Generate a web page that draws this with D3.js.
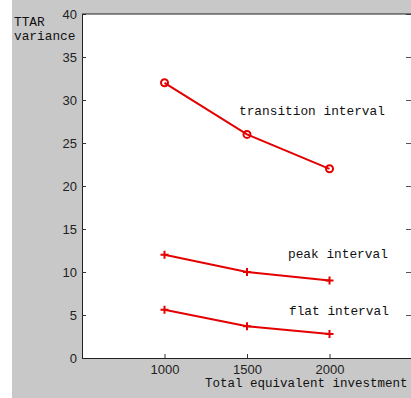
<!DOCTYPE html>
<html><head><meta charset="utf-8">
<script src="https://cdn.jsdelivr.net/npm/d3@7"></script>
<style>
html,body{margin:0;padding:0;background:#fff;overflow:hidden;}
svg{display:block;}
</style></head>
<body>
<svg id="c" width="411" height="398"></svg>
<script>
const investment = [1000, 1500, 2000];
const transitionInterval = [32, 26, 22];
const peakInterval = [12, 10, 9];
const flatInterval = [5.6, 3.7, 2.8];
const yTicks = [0, 5, 10, 15, 20, 25, 30, 35, 40];
const xTicks = [1000, 1500, 2000];
const seriesNames = ["transition interval", "peak interval", "flat interval"];

const svg = d3.select("#c");
const W = 411, H = 398;
const L = 82, R = 412, T = 14, B = 358;

svg.append("rect").attr("x", 12).attr("y", 0).attr("width", W - 12).attr("height", H).attr("fill", "#c8c8c8");
svg.append("rect").attr("x", L).attr("y", T).attr("width", R - L + 5).attr("height", B - T).attr("fill", "#fff");

const x = d3.scaleLinear().domain([500, 2500]).range([L, R]);
const y = d3.scaleLinear().domain([0, 40]).range([B, T]);

const tickFont = "Liberation Sans, Arial, sans-serif";
const monoFont = "Liberation Mono, Courier New, monospace";

// left axis
const yAx = svg.append("g").attr("transform", `translate(${L},0)`)
  .call(d3.axisLeft(y).tickValues(yTicks).tickSize(-4).tickPadding(5).tickFormat(d3.format("d")));
yAx.select(".domain").attr("stroke", "#222");
yAx.selectAll(".tick line").attr("stroke", "#333");
yAx.selectAll("text").attr("font-family", tickFont).attr("font-size", 13).attr("fill", "#222");

// right axis ticks (mirrored, axis line just outside the view)
const yAxR = svg.append("g").attr("transform", `translate(${R},0)`)
  .call(d3.axisRight(y).tickValues(yTicks).tickSize(-6).tickFormat(""));
yAxR.select(".domain").attr("stroke", "#222");
yAxR.selectAll(".tick line").attr("stroke", "#555");

// bottom axis
const xAx = svg.append("g").attr("transform", `translate(0,${B})`)
  .call(d3.axisBottom(x).tickValues(xTicks).tickSize(-4).tickPadding(7).tickFormat(d3.format("d")));
xAx.select(".domain").attr("stroke", "#222");
xAx.selectAll(".tick line").attr("stroke", "#333");
xAx.selectAll("text").attr("font-family", tickFont).attr("font-size", 13).attr("fill", "#222");

// top border
svg.append("line").attr("x1", L).attr("x2", W).attr("y1", T).attr("y2", T).attr("stroke", "#222");

const red = "#e40000";
const line = d3.line().x((d, i) => x(investment[i])).y(d => y(d));

function drawSeries(vals, marker) {
  svg.append("path").datum(vals).attr("d", line).attr("fill", "none")
    .attr("stroke", red).attr("stroke-width", 2);
  const g = svg.append("g");
  vals.forEach((v, i) => {
    const cx = x(investment[i]), cy = y(v);
    if (marker === "o") {
      g.append("circle").attr("cx", cx).attr("cy", cy).attr("r", 3.5)
        .attr("fill", "none").attr("stroke", red).attr("stroke-width", 2);
    } else {
      g.append("path").attr("d", `M${cx - 4},${cy}H${cx + 4}M${cx},${cy - 4}V${cy + 4}`)
        .attr("stroke", red).attr("stroke-width", 2);
    }
  });
}
drawSeries(transitionInterval, "o");
drawSeries(peakInterval, "+");
drawSeries(flatInterval, "+");

// annotations
const fs = 12.8;
const ann = [
  {t: seriesNames[0], x: 239, y: 115},
  {t: seriesNames[1], x: 288, y: 258},
  {t: seriesNames[2], x: 289, y: 315}
];
ann.forEach(a => svg.append("text").attr("x", a.x).attr("y", a.y)
  .attr("font-family", monoFont).attr("font-size", fs).attr("fill", "#111").text(a.t));

// axis labels
svg.append("text").attr("x", 14).attr("y", 26).attr("font-family", monoFont)
  .attr("font-size", fs).attr("fill", "#111").text("TTAR");
svg.append("text").attr("x", 14).attr("y", 40).attr("font-family", monoFont)
  .attr("font-size", fs).attr("fill", "#111").text("variance");
svg.append("text").attr("x", 205).attr("y", 387).attr("font-family", monoFont)
  .attr("font-size", 12.5).attr("fill", "#111").text("Total equivalent investment");
</script>
</body></html>
